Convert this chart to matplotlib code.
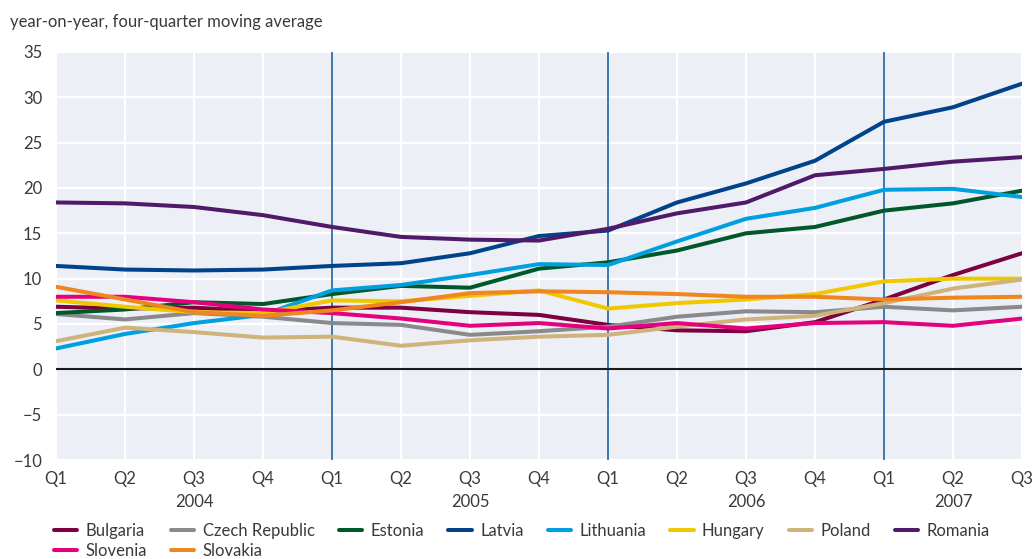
import numpy as np
import matplotlib.pyplot as plt

plt.rcParams['font.family'] = ['Lato', 'DejaVu Sans']
plt.rcParams['font.size'] = 12
plt.rcParams['text.color'] = '#3a3a3a'

# quarters Q1 2004 .. Q3 2007
quarter_labels = ['Q1', 'Q2', 'Q3', 'Q4'] * 3 + ['Q1', 'Q2', 'Q3']
years = ['2004', '2005', '2006', '2007']
year_pos = [2, 6, 10, 13]

bulgaria = [6.9, 6.7, 6.8, 6.4, 6.8, 6.8, 6.3, 6.0, 4.9, 4.3, 4.2, 5.2, 7.7, 10.4, 12.8]
czech = [6.1, 5.5, 6.2, 5.8, 5.1, 4.9, 3.8, 4.2, 4.7, 5.8, 6.4, 6.3, 6.9, 6.5, 6.9]
estonia = [6.2, 6.6, 7.4, 7.2, 8.3, 9.2, 9.0, 11.1, 11.8, 13.1, 15.0, 15.7, 17.5, 18.3, 19.7]
latvia = [11.4, 11.0, 10.9, 11.0, 11.4, 11.7, 12.8, 14.7, 15.3, 18.4, 20.5, 23.0, 27.3, 28.9, 31.5]
lithuania = [2.3, 3.9, 5.1, 6.0, 8.7, 9.3, 10.4, 11.6, 11.5, 14.1, 16.6, 17.8, 19.8, 19.9, 19.0]
hungary = [7.6, 6.9, 6.3, 6.2, 7.6, 7.5, 8.1, 8.7, 6.7, 7.3, 7.7, 8.3, 9.7, 10.0, 10.0]
poland = [3.1, 4.6, 4.1, 3.5, 3.6, 2.6, 3.2, 3.6, 3.8, 4.7, 5.5, 5.9, 7.3, 8.9, 9.9]
romania = [18.4, 18.3, 17.9, 17.0, 15.7, 14.6, 14.3, 14.2, 15.5, 17.2, 18.4, 21.4, 22.1, 22.9, 23.4]
slovenia = [8.0, 8.0, 7.4, 6.6, 6.2, 5.6, 4.8, 5.1, 4.5, 5.1, 4.5, 5.1, 5.2, 4.8, 5.6]
slovakia = [9.1, 7.7, 6.3, 5.9, 6.5, 7.4, 8.4, 8.6, 8.5, 8.3, 8.0, 8.0, 7.7, 7.9, 8.0]

series = [
    ('Bulgaria', bulgaria, '#7d0040'),
    ('Czech Republic', czech, '#8a8a8c'),
    ('Estonia', estonia, '#00582a'),
    ('Latvia', latvia, '#004389'),
    ('Lithuania', lithuania, '#009fe0'),
    ('Hungary', hungary, '#f1c800'),
    ('Poland', poland, '#ceb37b'),
    ('Romania', romania, '#4f1a67'),
    ('Slovenia', slovenia, '#e5007d'),
    ('Slovakia', slovakia, '#f0861e'),
]

x = np.arange(len(quarter_labels))

fig = plt.figure(figsize=(10.34, 5.59), dpi=100)
ax = fig.add_axes([0.0542, 0.1771, 0.9342, 0.730])
ax.set_facecolor('#eceff6')

# grid
for yv in range(-10, 36, 5):
    ax.axhline(yv, color='white', lw=1.6, zorder=1)
for xv in x:
    if xv in (4, 8, 12):
        ax.axvline(xv, color='#3b78b0', lw=1.4, zorder=2)
    else:
        ax.axvline(xv, color='white', lw=1.6, zorder=1)
ax.axhline(0, color='#1a1a1a', lw=1.5, zorder=2)

lines = {}
for name, vals, col in series:
    lines[name], = ax.plot(x, vals, color=col, lw=2.9, label=name, zorder=3,
                           solid_joinstyle='round', solid_capstyle='round')

ax.set_xlim(0, 14)
ax.set_ylim(-10, 35)
ax.set_yticks(range(-10, 36, 5))
ax.set_xticks(x)
ax.set_xticklabels(quarter_labels)
ax.tick_params(axis='both', length=0, colors='#3a3a3a', labelsize=12)
ax.tick_params(axis='x', pad=8)
ax.tick_params(axis='y', pad=10)
for s in ax.spines.values():
    s.set_visible(False)

for yr, p in zip(years, year_pos):
    ax.text(p, -0.103, yr, transform=ax.get_xaxis_transform(),
            ha='center', va='center', fontsize=12)

fig.text(0.0097, 0.961, 'year-on-year, four-quarter moving average',
         ha='left', va='center', fontsize=12)

# legend fills column by column, so interleave to get two rows
order = ['Bulgaria', 'Slovenia', 'Czech Republic', 'Slovakia', 'Estonia',
         'Latvia', 'Lithuania', 'Hungary', 'Poland', 'Romania']
fig.legend([lines[n] for n in order], order,
           loc='upper left', bbox_to_anchor=(0.052, 0.064), ncol=8,
           frameon=False, handlelength=1.4, handletextpad=0.5,
           columnspacing=1.45, labelspacing=0.2, borderaxespad=0,
           borderpad=0, fontsize=12)

fig.savefig('out.png', dpi=100)
